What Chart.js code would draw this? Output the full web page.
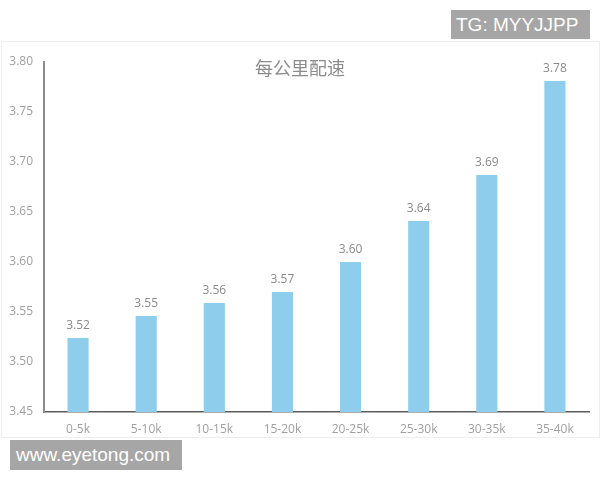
<!DOCTYPE html>
<html>
<head>
<meta charset="utf-8">
<title>每公里配速</title>
<script src="https://cdn.jsdelivr.net/npm/chart.js@4"></script>
<style>
  body { margin: 0; background: #fff; }
  #wrap { position: relative; width: 600px; height: 480px; overflow: hidden; }
  #frame { position: absolute; left: 1px; top: 41px; width: 597px; height: 395px; border: 1px solid #eeeeee; }
  #chart { position: absolute; left: 0; top: 0; }
  .mark { position: absolute; background: #a6a6a6; color: #fff; font-family: "Liberation Sans", Arial, sans-serif; font-size: 19px; line-height: 30px; white-space: nowrap; }
  #tg { left: 451px; top: 10px; width: 134px; height: 29px; padding-left: 5px; line-height: 29px; }
  #site { left: 10px; top: 440px; width: 166px; height: 30px; padding-left: 6px; }
</style>
</head>
<body>
<div id="wrap">
  <div id="frame"></div>
  <canvas id="chart" width="600" height="480"></canvas>
  <div class="mark" id="tg">TG: MYYJJPP</div>
  <div class="mark" id="site">www.eyetong.com</div>
</div>
<script>
const chartTitle = '每公里配速';
const categories = ['0-5k', '5-10k', '10-15k', '15-20k', '20-25k', '25-30k', '30-35k', '35-40k'];
const pace = [3.524, 3.546, 3.559, 3.570, 3.600, 3.641, 3.687, 3.781];
const yTicks = [3.45, 3.50, 3.55, 3.60, 3.65, 3.70, 3.75, 3.80];

const labelFont = '"Open Sans", "Noto Sans", sans-serif';

// title and value labels drawn on the canvas
const extras = {
	id: 'extras',
	afterDatasetsDraw(chart) {
		const ctx = chart.ctx;
		ctx.save();
		ctx.fillStyle = '#8a8a8a';
		ctx.font = '12px ' + labelFont;
		ctx.textAlign = 'center';
		ctx.textBaseline = 'middle';
		chart.getDatasetMeta(0).data.forEach((bar, i) => {
			ctx.fillText(pace[i].toFixed(2), bar.x, bar.y - 12);
		});
		ctx.fillStyle = '#8c8c8c';
		ctx.font = '18px "Noto Sans CJK SC", sans-serif';
		ctx.fillText(chartTitle, 300, 68);
		ctx.restore();
	}
};

const chart = new Chart(document.querySelector('#chart'), {
	type: 'bar',
	data: {
		labels: categories,
		datasets: [{
			data: pace,
			backgroundColor: '#8ecdec',
			categoryPercentage: 1,
			barPercentage: 0.31
		}]
	},
	options: {
		responsive: false,
		animation: false,
		devicePixelRatio: 1,
		layout: { padding: { top: 62, right: 11, left: 0, bottom: 0 } },
		plugins: {
			legend: { display: false },
			title: { display: false },
			tooltip: { enabled: false }
		},
		scales: {
			x: {
				grid: { display: false, drawTicks: false },
				border: { display: true, color: '#5a5a5a', width: 1.5 },
				ticks: { color: '#a0a0a0', font: { size: 12, family: labelFont }, padding: 10, maxRotation: 0 },
				afterFit(scale) { scale.height = 68; }
			},
			y: {
				min: 3.45,
				max: 3.80,
				grid: { display: false, drawTicks: false },
				border: { display: true, color: '#8c8c8c', width: 2 },
				afterBuildTicks(scale) { scale.ticks = yTicks.map(v => ({ value: v })); },
				ticks: {
					color: '#a0a0a0',
					font: { size: 12, family: labelFont },
					padding: 11,
					callback: v => Number(v).toFixed(2)
				},
				afterFit(scale) { scale.width = 44; }
			}
		}
	},
	plugins: [extras]
});
</script>
</body>
</html>
